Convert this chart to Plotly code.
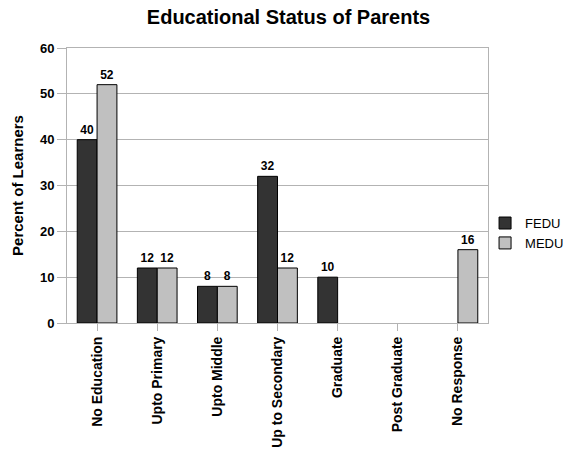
import plotly.graph_objects as go

categories = ["No Education", "Upto Primary", "Upto Middle", "Up to Secondary",
              "Graduate", "Post Graduate", "No Response"]
fedu = [40, 12, 8, 32, 10, None, None]
medu = [52, 12, 8, 12, None, None, 16]

font_family = "Liberation Sans, Arial, sans-serif"

fig = go.Figure()
fig.add_trace(go.Bar(
    x=categories, y=fedu, name="FEDU",
    marker=dict(color="#333333", line=dict(color="#000000", width=1)),
    text=[("" if v is None else str(v)) for v in fedu],
    textposition="outside", cliponaxis=False,
    textfont=dict(family=font_family, size=12, color="#000000", weight="bold"),
))
fig.add_trace(go.Bar(
    x=categories, y=medu, name="MEDU",
    marker=dict(color="#c0c0c0", line=dict(color="#000000", width=1)),
    text=[("" if v is None else str(v)) for v in medu],
    textposition="outside", cliponaxis=False,
    textfont=dict(family=font_family, size=12, color="#000000", weight="bold"),
))

fig.update_layout(
    width=563, height=459,
    margin=dict(l=67, r=75, t=48, b=136, autoexpand=False),
    paper_bgcolor="white", plot_bgcolor="white",
    barmode="group", bargap=0.34, bargroupgap=0,
    title=dict(text="<b>Educational Status of Parents</b>", x=0.5125, xanchor="center",
               y=0.962, yanchor="middle",
               font=dict(family=font_family, size=20, color="#000000")),
    font=dict(family=font_family, color="#000000"),
    showlegend=True,
    legend=dict(x=0.993, y=0.327, xanchor="left", yanchor="middle",
                font=dict(family=font_family, size=13, color="#000000"),
                itemwidth=30, bgcolor="rgba(0,0,0,0)"),
)
fig.update_xaxes(
    type="category", tickangle=-90,
    tickfont=dict(family=font_family, size=14, color="#000000", weight="bold"),
    showline=True, linecolor="#b3b3b3", linewidth=1, mirror=True,
    ticks="outside", ticklen=7, tickcolor="#b3b3b3",
    showgrid=False, range=[-0.5, 6.5],
)
fig.update_yaxes(
    range=[0, 60], dtick=10,
    tickfont=dict(family=font_family, size=13, color="#000000", weight="bold"),
    title=dict(text="<b>Percent of Learners</b>", standoff=12,
               font=dict(family=font_family, size=15, color="#000000")),
    showline=True, linecolor="#b3b3b3", linewidth=1, mirror=True,
    ticks="outside", ticklen=9, tickcolor="#b3b3b3",
    showgrid=True, gridcolor="#b3b3b3", gridwidth=1, zeroline=False,
)

fig.write_html("out.html")
